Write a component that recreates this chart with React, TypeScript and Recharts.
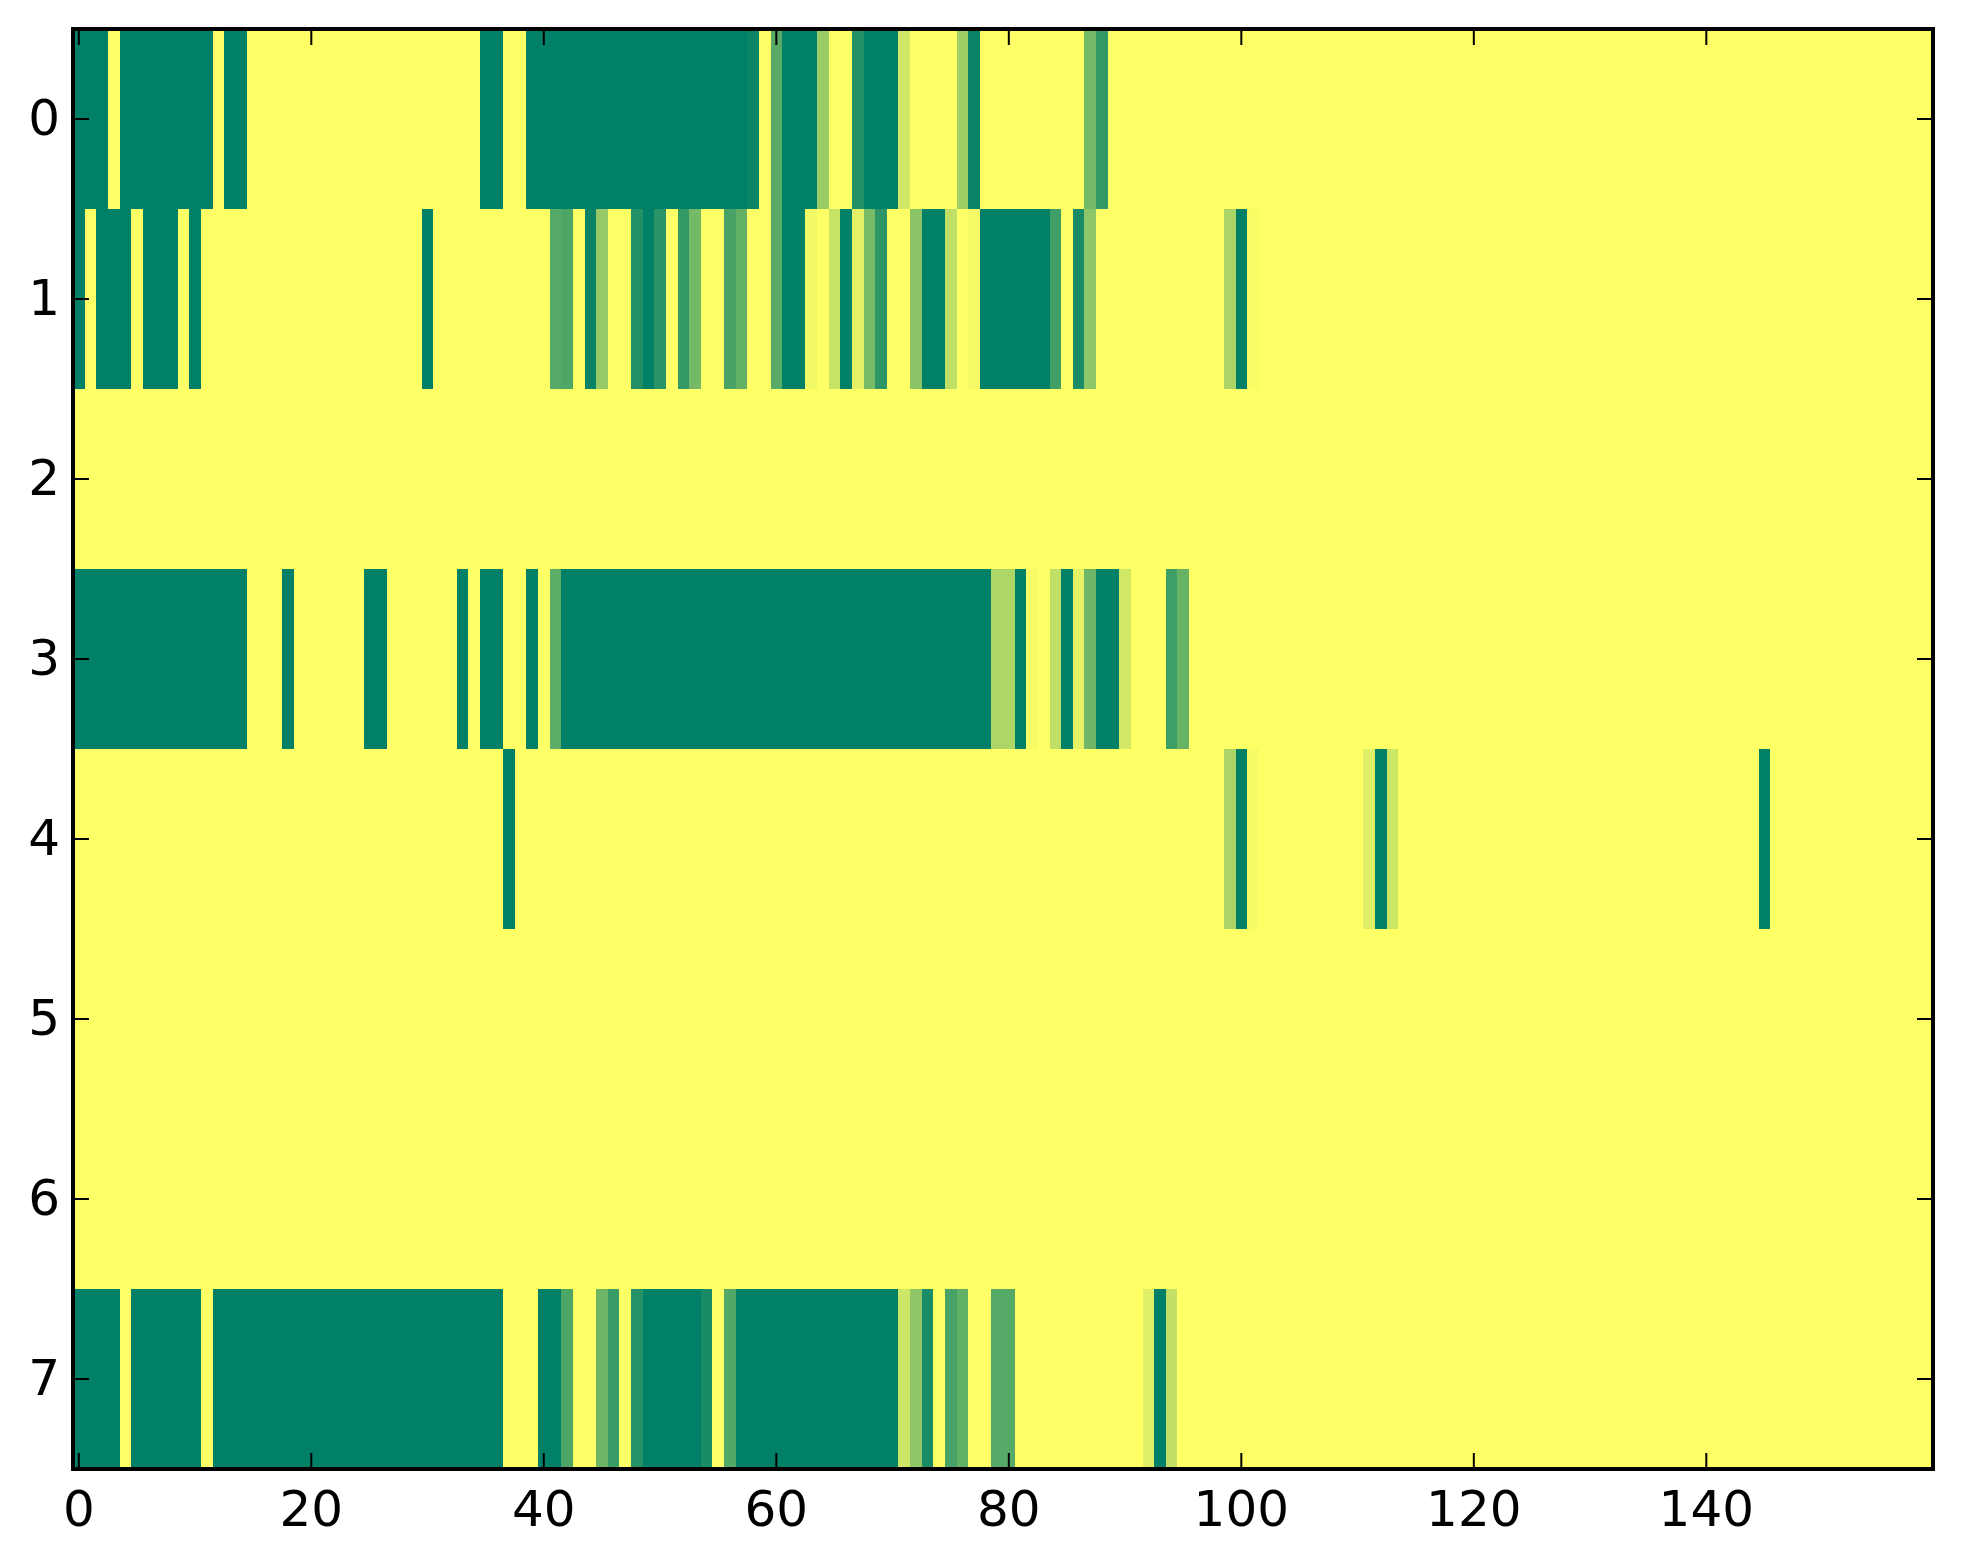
import React from 'react';
import { ScatterChart, Scatter, XAxis, YAxis, ReferenceArea } from 'recharts';

const WIDTH = 1963;
const HEIGHT = 1564;
const COLUMNS = 160;
const xTicks = [0, 20, 40, 60, 80, 100, 120, 140];
const yTicks = [0, 1, 2, 3, 4, 5, 6, 7];

// each run is [first column, last column, value], columns not listed are 0
type Run = [number, number, number];

const row0: Run[] = [
  [0, 2, 1], [4, 11, 1], [13, 14, 1], [35, 36, 1], [39, 57, 1], [58, 58, 0.96], [60, 60, 0.66],
  [61, 63, 1], [64, 64, 0.4], [67, 67, 0.87], [68, 70, 1], [71, 71, 0.18], [76, 76, 0.38],
  [77, 77, 0.97], [87, 87, 0.55], [88, 88, 0.8],
];
const row1: Run[] = [
  [0, 0, 1], [2, 4, 1], [6, 8, 1], [10, 10, 1], [30, 30, 1], [41, 41, 0.67], [42, 42, 0.7],
  [44, 44, 0.97], [45, 45, 0.42], [48, 48, 0.87], [49, 49, 1], [50, 50, 0.84], [52, 52, 0.8],
  [53, 53, 0.55], [56, 56, 0.72], [57, 57, 0.62], [60, 60, 0.66], [61, 62, 1], [63, 63, 0.05],
  [65, 65, 0.22], [66, 66, 1], [67, 67, 0.11], [68, 68, 0.53], [69, 69, 0.82], [72, 72, 0.46],
  [73, 74, 1], [75, 75, 0.25], [77, 77, 0.04], [78, 83, 1], [84, 84, 0.75], [86, 86, 0.9],
  [87, 87, 0.45], [99, 99, 0.33], [100, 100, 1], [101, 101, 0.02],
];
const row2: Run[] = [];
const row3: Run[] = [
  [0, 14, 1], [18, 18, 1], [25, 26, 1], [33, 33, 1], [35, 36, 1], [39, 39, 1], [41, 41, 0.64],
  [42, 78, 1], [79, 80, 0.32], [81, 81, 1], [82, 82, 0.03], [84, 84, 0.25], [85, 85, 1],
  [86, 86, 0.1], [87, 87, 0.57], [88, 89, 1], [90, 90, 0.18], [94, 94, 0.76], [95, 95, 0.6],
];
const row4: Run[] = [
  [37, 37, 1], [99, 99, 0.33], [100, 100, 1], [101, 101, 0.03], [111, 111, 0.12], [112, 112, 1],
  [113, 113, 0.2], [145, 145, 1],
];
const row5: Run[] = [];
const row6: Run[] = [];
const row7: Run[] = [
  [0, 3, 1], [5, 10, 1], [12, 36, 1], [40, 41, 1], [42, 42, 0.7], [45, 45, 0.57], [46, 46, 0.78],
  [48, 48, 0.86], [49, 53, 1], [54, 54, 0.9], [56, 56, 0.68], [57, 70, 1], [71, 71, 0.2],
  [72, 72, 0.44], [73, 73, 0.9], [75, 75, 0.72], [76, 76, 0.62], [79, 80, 0.67], [92, 92, 0.12],
  [93, 93, 1], [94, 94, 0.24],
];

const rows = [row0, row1, row2, row3, row4, row5, row6, row7];

const cells = rows.flatMap((runs, row) =>
  Array.from({ length: COLUMNS }, (_, col) => {
    const run = runs.find(r => col >= r[0] && col <= r[1]);
    return { col, row, value: run ? run[2] : 0 };
  })
);

const margin = { top: 29, right: 30, left: 0, bottom: 0 };
const axisLeft = 73;
const axisBottom = 95;
const plotW = WIDTH - axisLeft - margin.right;
const plotH = HEIGHT - margin.top - axisBottom;
const cellW = plotW / COLUMNS;
const cellH = plotH / rows.length;
const TICK_LEN = 16;

// matplotlib's summer colormap, reversed
const summerR = (v: number) => {
  const t = 1 - v;
  return `rgb(${Math.round(255 * t)},${Math.round(255 * (0.5 + t / 2))},102)`;
};

const CellShape = (props: any) => (
  <rect
    x={props.cx - cellW / 2}
    y={props.cy - cellH / 2}
    width={cellW}
    height={cellH}
    fill={summerR(props.payload.value)}
    shapeRendering="crispEdges"
  />
);

const BottomTick = ({ x, y, payload }: any) => (
  <g>
    <path d={`M${x} ${y}v${-TICK_LEN}M${x} ${y - plotH}v${TICK_LEN}`} stroke="#000" strokeWidth={2} />
    <text x={x} y={y + 57} textAnchor="middle" fontSize={50} fontFamily="DejaVu Sans" fill="#000">
      {payload.value}
    </text>
  </g>
);

const LeftTick = ({ x, y, payload }: any) => (
  <g>
    <path d={`M${x} ${y}h${TICK_LEN}M${x + plotW} ${y}h${-TICK_LEN}`} stroke="#000" strokeWidth={2} />
    <text x={x - 13} y={y + 16} textAnchor="end" fontSize={50} fontFamily="DejaVu Sans" fill="#000">
      {payload.value}
    </text>
  </g>
);

export default function App() {
  return (
    <div style={{ position: 'absolute', left: 0, top: 0, width: WIDTH, height: HEIGHT, background: '#fff' }}>
      <ScatterChart width={WIDTH} height={HEIGHT} margin={margin}>
        <XAxis
          type="number"
          dataKey="col"
          domain={[-0.5, COLUMNS - 0.5]}
          ticks={xTicks}
          interval={0}
          height={axisBottom}
          axisLine={false}
          tickLine={false}
          tickSize={0}
          tickMargin={0}
          tick={<BottomTick />}
        />
        <YAxis
          type="number"
          dataKey="row"
          domain={[-0.5, rows.length - 0.5]}
          ticks={yTicks}
          interval={0}
          reversed
          width={axisLeft}
          axisLine={false}
          tickLine={false}
          tickSize={0}
          tickMargin={0}
          tick={<LeftTick />}
        />
        <Scatter data={cells} shape={<CellShape />} isAnimationActive={false} />
        <ReferenceArea
          x1={-0.5}
          x2={COLUMNS - 0.5}
          y1={-0.5}
          y2={rows.length - 0.5}
          fill="none"
          stroke="#000"
          strokeWidth={4}
          ifOverflow="visible"
          zIndex={700}
        />
      </ScatterChart>
    </div>
  );
}
